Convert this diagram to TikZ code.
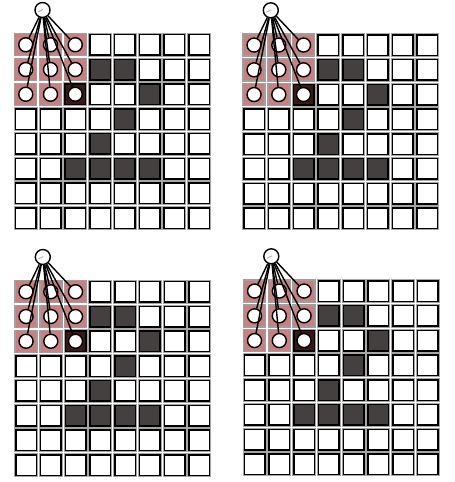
\documentclass[tikz,border=0pt]{standalone}
\definecolor{pinkcell}{RGB}{200,128,128}
\definecolor{maroon}{RGB}{62,22,22}
\definecolor{darkcell}{RGB}{68,64,64}
\tikzset{
 cell/.style={rectangle, minimum size=20.5pt, inner sep=0pt, fill=white, draw=black, line width=1.5pt, preaction={draw=gray!70, line width=3.5pt}},
 darkc/.style={cell, fill=darkcell},
 marc/.style={cell, fill=maroon},
 pinkc/.style={rectangle, minimum size=22pt, inner sep=0pt, fill=pinkcell, draw=gray!75, line width=1.4pt},
 unit/.style={circle, minimum size=14pt, inner sep=0pt, fill=white, draw=black, line width=1.4pt},
 topunit/.style={unit, minimum size=15pt, path picture={\draw[gray!60, line width=0.9pt] ([shift={(-4.5pt,-2pt)}]path picture bounding box.center) -- ++(5pt,2.5pt);}},
 conn/.style={black, line width=1.4pt}
}
\expandafter\def\csname dk1-3\endcsname{}
\expandafter\def\csname dk1-4\endcsname{}
\expandafter\def\csname dk2-5\endcsname{}
\expandafter\def\csname dk3-4\endcsname{}
\expandafter\def\csname dk4-3\endcsname{}
\expandafter\def\csname dk5-2\endcsname{}
\expandafter\def\csname dk5-3\endcsname{}
\expandafter\def\csname dk5-4\endcsname{}
\expandafter\def\csname dk5-5\endcsname{}
\begin{document}
\begin{tikzpicture}[x=1pt,y=-1pt]
\useasboundingbox (0,0) rectangle (455,482);
\foreach \p/\ox/\oy in {a/14/33, b/242.3/33.3, c/14.3/280, d/242.8/279.3}{
  \foreach \r in {0,...,7}{
    \foreach \c in {0,...,7}{
      \def\st{cell}
      \ifnum\r<3 \ifnum\c<3 \def\st{pinkc}\fi\fi
      \ifnum\r=2 \ifnum\c=2 \def\st{marc}\fi\fi
      \ifcsname dk\r-\c\endcsname \def\st{darkc}\fi
      \node[\st] (\p-\r-\c) at ({\ox+11.75+24.75*\c},{\oy+11.75+24.75*\r}) {};
    }
  }
  \foreach \r in {0,1,2}{
    \foreach \c in {0,1,2}{
      \node[unit] (\p-u-\r-\c) at (\p-\r-\c) {};
    }
  }
  \node[topunit] (\p-top) at ({\ox+28.5},{\oy-23}) {};
  \foreach \r in {0,1,2}{
    \foreach \c in {0,1,2}{
      \draw[conn] (\p-top) -- (\p-u-\r-\c);
    }
  }
}
\end{tikzpicture}
\end{document}
